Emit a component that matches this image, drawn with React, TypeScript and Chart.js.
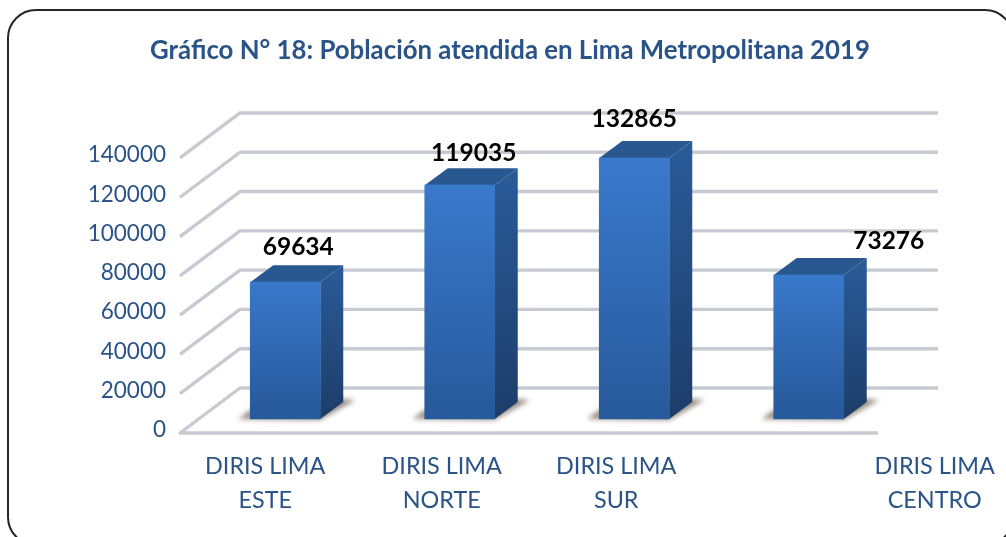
import React, { useEffect, useRef } from "react";
import { Chart, registerables } from "chart.js";

Chart.register(...registerables);

const categories = [["DIRIS LIMA", "ESTE"], ["DIRIS LIMA", "NORTE"], ["DIRIS LIMA", "SUR"], ["DIRIS LIMA", "CENTRO"]];
const poblacion = [69634, 119035, 132865, 73276];
const yTicks = [0, 20000, 40000, 60000, 80000, 100000, 120000, 140000];
const titulo = "Gráfico N° 18: Población atendida en Lima Metropolitana 2019";

const BLUE_TEXT = "#2a5387";
const FONT = "Lato, 'Open Sans', sans-serif";
const WALL = { dx: 60, dy: 45 };
const BAR_SHIFT = { dx: 18, dy: 14 };
const BAR_DEPTH = { dx: 23, dy: 17 };
const labelNudge = [
  { x: 13, y: -35 },
  { x: 14, y: -32 },
  { x: 0, y: -39 },
  { x: 80, y: -34 },
];
const catNudge = [-2, 0, 0, 144];

const threeD = {
  id: "threeD",
  beforeDraw(chart: any) {
    const { ctx } = chart;
    ctx.save();
    ctx.fillStyle = "#ffffff";
    ctx.fillRect(0, 0, chart.width, chart.height);
    ctx.strokeStyle = "#262626";
    ctx.lineWidth = 2;
    ctx.beginPath();
    ctx.roundRect(8, 10, 1005, 535, 28);
    ctx.stroke();
    ctx.restore();
  },
  beforeDatasetsDraw(chart: any) {
    const { ctx, chartArea: a, scales } = chart;
    ctx.save();
    ctx.strokeStyle = "#c6cbd1";
    ctx.lineWidth = 3.4;
    ctx.lineJoin = "round";
    yTicks.forEach((v) => {
      const py = scales.y.getPixelForValue(v);
      ctx.beginPath();
      if (v === 0) {
        ctx.moveTo(a.right, py);
        ctx.lineTo(a.left, py);
        ctx.lineTo(a.left + WALL.dx, py - WALL.dy);
        ctx.lineTo(a.right + WALL.dx, py - WALL.dy);
      } else {
        ctx.moveTo(a.left, py);
        ctx.lineTo(a.left + WALL.dx, py - WALL.dy);
        ctx.lineTo(a.right + WALL.dx, py - WALL.dy);
      }
      ctx.stroke();
    });
    ctx.restore();

    const meta = chart.getDatasetMeta(0);
    meta.data.forEach((bar: any) => {
      const left = bar.x - bar.width / 2 + BAR_SHIFT.dx;
      const right = left + bar.width;
      const top = bar.y - BAR_SHIFT.dy;
      const bottom = bar.base - BAR_SHIFT.dy;
      const { dx, dy } = BAR_DEPTH;

      ctx.save();
      ctx.filter = "blur(2.5px)";
      ctx.fillStyle = "rgba(125,112,100,0.8)";
      ctx.beginPath();
      ctx.moveTo(left - 12, bottom);
      ctx.lineTo(right, bottom + 1);
      ctx.lineTo(right + dx + 12, bottom - dy - 2);
      ctx.lineTo(right + dx, bottom - dy - 3);
      ctx.lineTo(left, bottom - 9);
      ctx.closePath();
      ctx.fill();
      ctx.restore();

      ctx.save();
      const side = ctx.createLinearGradient(0, top - dy, 0, bottom);
      side.addColorStop(0, "#2a5b99");
      side.addColorStop(1, "#1d3d69");
      ctx.fillStyle = side;
      ctx.beginPath();
      ctx.moveTo(right, top);
      ctx.lineTo(right + dx, top - dy);
      ctx.lineTo(right + dx, bottom - dy);
      ctx.lineTo(right, bottom);
      ctx.closePath();
      ctx.fill();

      ctx.fillStyle = "#28588f";
      ctx.beginPath();
      ctx.moveTo(left, top);
      ctx.lineTo(left + dx, top - dy);
      ctx.lineTo(right + dx, top - dy);
      ctx.lineTo(right, top);
      ctx.closePath();
      ctx.fill();
      ctx.restore();
    });
  },
  beforeDatasetDraw(chart: any) {
    chart.ctx.save();
    chart.ctx.translate(BAR_SHIFT.dx, -BAR_SHIFT.dy);
  },
  afterDatasetDraw(chart: any) {
    chart.ctx.restore();
  },
  afterDatasetsDraw(chart: any) {
    const { ctx, scales } = chart;
    const meta = chart.getDatasetMeta(0);
    ctx.save();
    ctx.textAlign = "center";
    ctx.textBaseline = "middle";
    ctx.font = `bold 24.5px ${FONT}`;
    ctx.fillStyle = "#000000";
    meta.data.forEach((bar: any, i: number) => {
      ctx.fillText(
        String(poblacion[i]),
        bar.x + BAR_SHIFT.dx + labelNudge[i].x,
        bar.y - BAR_SHIFT.dy + labelNudge[i].y
      );
    });
    ctx.font = `23.4px ${FONT}`;
    ctx.fillStyle = BLUE_TEXT;
    categories.forEach((lines, i) => {
      const cx = scales.x.getPixelForValue(i) + catNudge[i];
      lines.forEach((line, j) => {
        ctx.fillText(line, cx, 466 + j * 34);
      });
    });
    ctx.restore();
  },
};

export default function App() {
  const ref = useRef<HTMLCanvasElement>(null);

  useEffect(() => {
    document.body.style.margin = "0";
    const chart = new Chart(ref.current as HTMLCanvasElement, {
      type: "bar",
      data: {
        labels: categories.map((c) => c.join(" ")),
        datasets: [
          {
            data: poblacion,
            barThickness: 70,
            clip: false,
            backgroundColor: (c: any) => {
              const ch = c.chart;
              if (!ch.chartArea || c.raw == null) return "#3374c2";
              const top = ch.scales.y.getPixelForValue(c.raw) - BAR_SHIFT.dy;
              const bottom = ch.scales.y.getPixelForValue(0) - BAR_SHIFT.dy;
              const g = ch.ctx.createLinearGradient(0, top, 0, bottom);
              g.addColorStop(0, "#3b7bcf");
              g.addColorStop(1, "#285b9d");
              return g;
            },
          } as any,
        ],
      },
      plugins: [threeD],
      options: {
        animation: false,
        responsive: false,
        layout: { padding: { left: 14, right: 0, top: 0, bottom: 104 } },
        plugins: {
          legend: { display: false },
          tooltip: { enabled: false },
          title: {
            display: true,
            text: titulo,
            color: BLUE_TEXT,
            font: { family: FONT, size: 25.8, weight: "bold", lineHeight: 1.2 },
            padding: { top: 35, bottom: 92 },
          },
        },
        scales: {
          x: {
            afterFit: (s: any) => {
              s.height = 0;
            },
            grid: { display: false },
            border: { display: false },
            ticks: { display: false },
          },
          y: {
            min: 0,
            max: 140000,
            afterFit: (s: any) => {
              s.width = 166;
            },
            grid: { display: false, drawTicks: false },
            border: { display: false },
            ticks: {
              stepSize: 20000,
              padding: 14,
              labelOffset: -3,
              color: BLUE_TEXT,
              font: { family: FONT, size: 22.5 },
              callback: (v: any) => String(v),
            },
          },
          margen: {
            position: "right",
            min: 0,
            max: 1,
            afterFit: (s: any) => {
              s.width = 128;
            },
            grid: { display: false, drawTicks: false },
            border: { display: false },
            ticks: { display: false },
          },
        },
      },
    } as any);
    return () => chart.destroy();
  }, []);

  return (
    <div style={{ width: 1006, height: 537, overflow: "hidden" }}>
      <canvas ref={ref} width={1006} height={537} style={{ display: "block", filter: "blur(0.4px)" }} />
    </div>
  );
}
